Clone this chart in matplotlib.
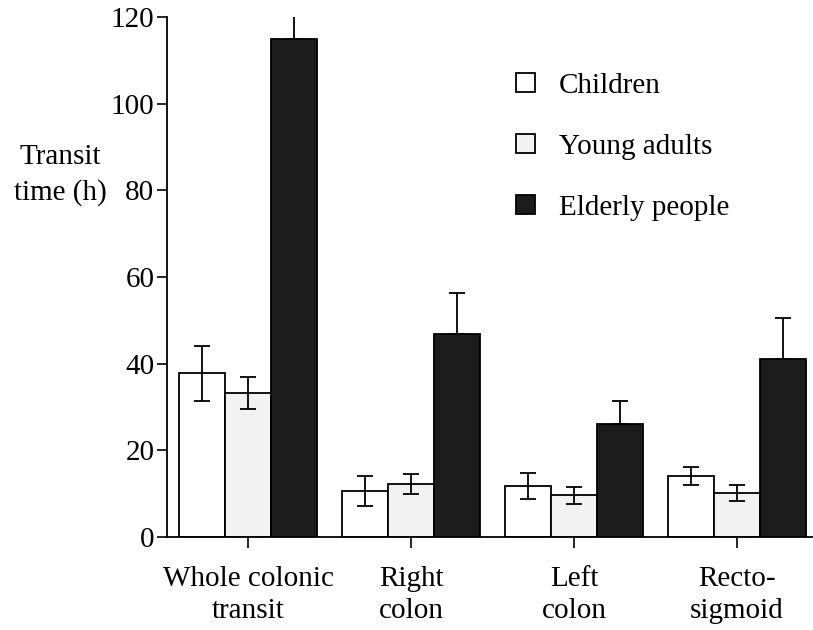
import numpy as np
import matplotlib
matplotlib.use('Agg')
import matplotlib.pyplot as plt

plt.rcParams['font.family'] = ['Liberation Serif', 'DejaVu Serif']

categories = ['Whole colonic\ntransit', 'Right\ncolon', 'Left\ncolon', 'Recto-\nsigmoid']
groups = ['Children', 'Young adults', 'Elderly people']

children = [37.8, 10.6, 11.8, 14.1]
children_err = [6.3, 3.5, 3.0, 2.0]
young = [33.3, 12.2, 9.6, 10.2]
young_err = [3.7, 2.3, 2.0, 1.8]
elderly = [115.0, 46.8, 26.0, 41.0]
elderly_err = [5.3, 9.6, 5.5, 9.5]

yticks = [0, 20, 40, 60, 80, 100, 120]

fig = plt.figure(figsize=(8.13, 6.3), dpi=100)
ax = fig.add_axes([0.2054, 0.1476, 0.7946, 0.8254])

x = np.arange(len(categories))
w = 0.283
fills = ['white', '#f2f2f2', '#1c1c1c']
series = [(children, children_err), (young, young_err), (elderly, elderly_err)]

for i, (vals, errs) in enumerate(series):
    pos = x + (i - 1) * w
    ax.bar(pos, vals, w, color=fills[i], edgecolor='black', linewidth=1.3,
           label=groups[i], zorder=2)
    if i == 2:
        # lower half is hidden inside the dark bar
        yerr = [np.zeros(len(errs)), errs]
    else:
        yerr = errs
    ax.errorbar(pos, vals, yerr=yerr, fmt='none', ecolor='black',
                elinewidth=1.3, capsize=6, capthick=1.3, zorder=3)

ax.set_xlim(-0.497, 3.466)
ax.set_ylim(0, 120)
ax.set_yticks(yticks)
ax.set_xticks(x)
ax.set_xticklabels(categories, fontsize=21, linespacing=1.3)
ax.tick_params(axis='y', labelsize=21, length=7, width=1.2, pad=2)
ax.tick_params(axis='x', length=8, width=1.2, pad=13)

for s in ['top', 'right']:
    ax.spines[s].set_visible(False)
for s in ['left', 'bottom']:
    ax.spines[s].set_linewidth(1.3)

fig.text(60 / 813, 1 - 175 / 630, 'Transit\ntime (h)', fontsize=21,
         ha='center', va='center', linespacing=1.4)

ax.legend(loc='upper left', bbox_to_anchor=(0.5, 0.943), frameon=False,
          fontsize=21, handlelength=0.65, handleheight=0.65,
          handletextpad=0.8, labelspacing=1.2)

fig.savefig('out.png', dpi=100)
